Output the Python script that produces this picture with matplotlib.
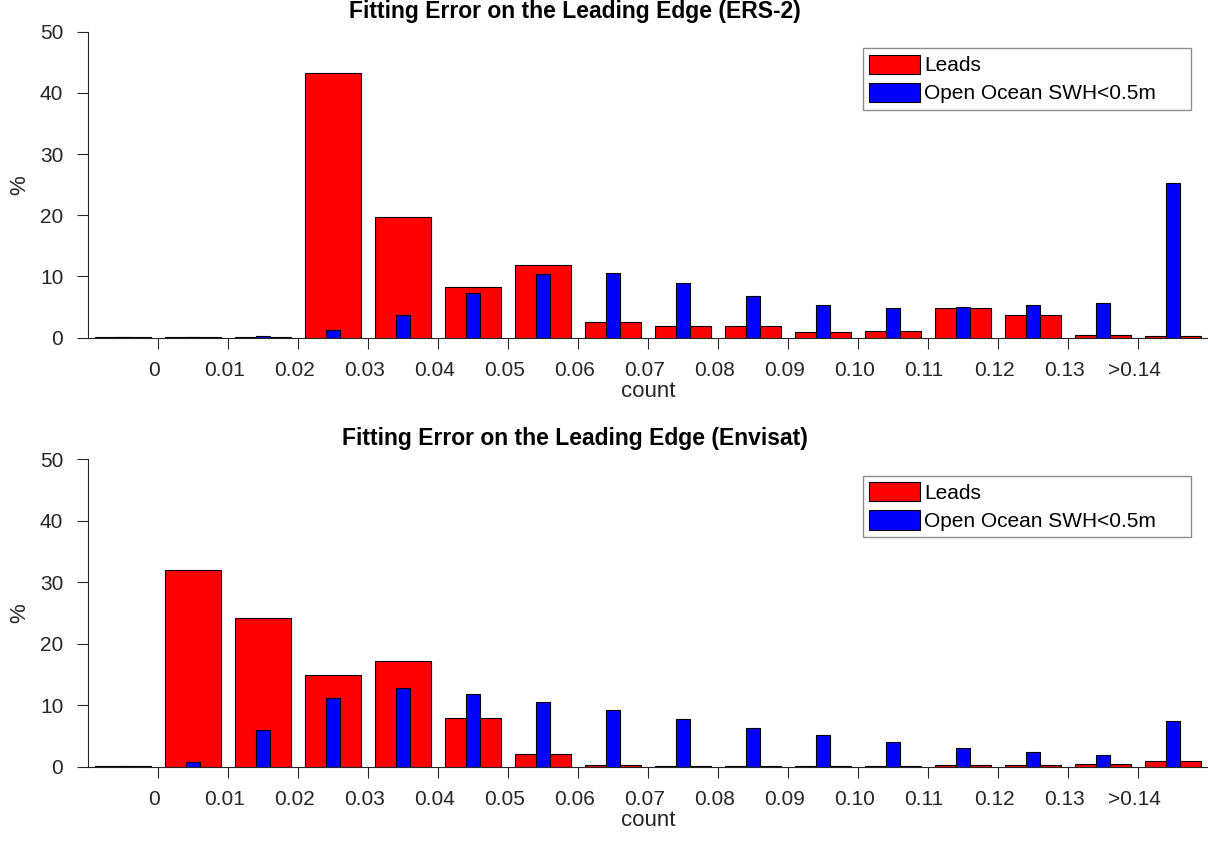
import matplotlib
matplotlib.use("Agg")
import matplotlib.pyplot as plt
import matplotlib.transforms as mtransforms
import numpy as np

plt.rcParams["font.family"] = ["Liberation Sans", "DejaVu Sans"]

# Bin labels (ticks sit between bars)
tick_labels = ["0", "0.01", "0.02", "0.03", "0.04", "0.05", "0.06", "0.07",
               "0.08", "0.09", "0.10", "0.11", "0.12", "0.13", ">0.14"]

# ERS-2 percentages per bin
ers_leads = [0.1, 0.1, 0.1, 43.2, 19.7, 8.3, 11.9, 2.5,
             1.85, 1.85, 0.87, 1.04, 4.85, 3.7, 0.38, 0.22]
ers_ocean = [0.05, 0.05, 0.27, 1.2, 3.66, 7.35, 10.4, 10.5,
             8.9, 6.76, 5.4, 4.9, 5.0, 5.34, 5.6, 25.2]

# Envisat percentages per bin
env_leads = [0.1, 32.0, 24.2, 14.9, 17.2, 8.0, 2.0, 0.2,
             0.15, 0.1, 0.1, 0.05, 0.28, 0.2, 0.44, 0.87]
env_ocean = [0.05, 0.8, 5.9, 11.2, 12.85, 11.9, 10.6, 9.3,
             7.76, 6.35, 5.1, 3.96, 3.1, 2.4, 1.9, 7.4]

dark = "#262626"


def plot_panel(ax, leads, ocean, title):
    x = np.arange(1, len(leads) + 1)
    ax.bar(x, leads, width=0.8, color="#ff0000", edgecolor="black",
           linewidth=0.8, label="Leads", zorder=2)
    # trailing spaces give the wide right margin of the original legend box
    ax.bar(x, ocean, width=0.2, color="#0000ff", edgecolor="black",
           linewidth=0.8, label="Open Ocean SWH<0.5m     ", zorder=3)
    ax.set_xlim(0.5, 16.5)
    ax.set_ylim(0, 50)
    ax.set_yticks(np.arange(0, 51, 10))
    ax.set_xticks(np.arange(1.5, 16, 1))
    ax.set_xticklabels(tick_labels)
    ax.spines["top"].set_visible(False)
    ax.spines["right"].set_visible(False)
    for s in ("left", "bottom"):
        ax.spines[s].set_color(dark)
        ax.spines[s].set_linewidth(0.8)
    ax.tick_params(direction="out", length=8, width=0.8, color=dark,
                   labelcolor=dark, labelsize=15)
    ax.tick_params(axis="x", pad=8.5)
    ax.tick_params(axis="y", pad=10)
    shift = mtransforms.ScaledTranslation(-4 / 100, 0, ax.figure.dpi_scale_trans)
    for lab in ax.get_xticklabels():
        lab.set_transform(lab.get_transform() + shift)
    ax.set_xlabel("count", fontsize=16, color=dark, labelpad=1)
    ax.set_ylabel("%", fontsize=16, color=dark, labelpad=7)
    ax.set_title(title, fontsize=16.5, fontweight="bold", x=0.435, pad=10)
    leg = ax.legend(loc="upper right", fontsize=15, frameon=True,
                    fancybox=False, borderaxespad=0.8, handlelength=2.45,
                    handleheight=1.05, handletextpad=0.22, labelspacing=0.35,
                    borderpad=0.3)
    leg.get_frame().set_edgecolor("#707070")
    leg.get_frame().set_linewidth(1.0)


fig = plt.figure(figsize=(12.08, 8.47), dpi=100)
ax1 = fig.add_axes([0.0731, 0.6013, 0.9269, 0.3613])
ax2 = fig.add_axes([0.0731, 0.0948, 0.9269, 0.3630])

plot_panel(ax1, ers_leads, ers_ocean, "Fitting Error on the Leading Edge (ERS-2)")
plot_panel(ax2, env_leads, env_ocean, "Fitting Error on the Leading Edge (Envisat)")

fig.savefig("out.png", dpi=100)
